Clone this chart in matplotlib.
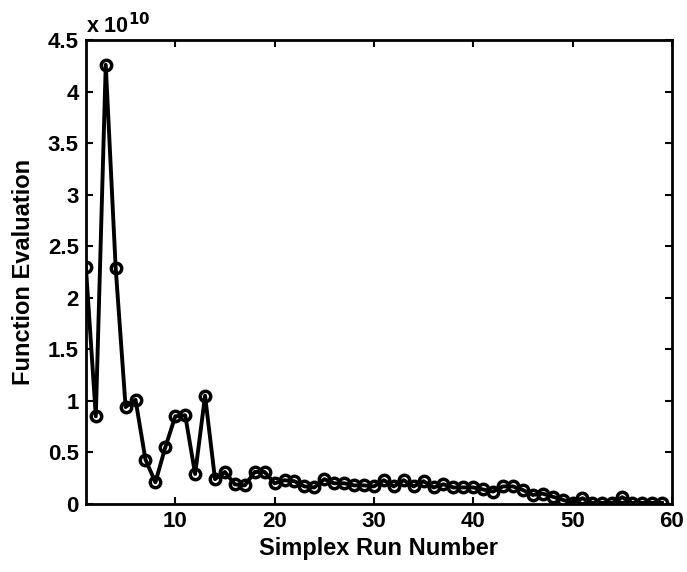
import matplotlib.pyplot as plt
import numpy as np

plt.rcParams['font.family'] = ['Liberation Sans', 'DejaVu Sans']
plt.rcParams['font.weight'] = 'bold'

# function evaluation per simplex run (units of 1e10)
run = np.arange(1, 60)
fval = [2.30, 0.85, 4.26, 2.29, 0.94, 1.01, 0.43, 0.21, 0.55, 0.85,
        0.86, 0.29, 1.05, 0.24, 0.31, 0.19, 0.18, 0.31, 0.31, 0.20,
        0.23, 0.22, 0.17, 0.16, 0.24, 0.20, 0.20, 0.18, 0.18, 0.17,
        0.23, 0.17, 0.23, 0.17, 0.22, 0.16, 0.19, 0.16, 0.16, 0.16,
        0.14, 0.12, 0.17, 0.17, 0.135, 0.087, 0.10, 0.07, 0.04, 0.01,
        0.055, 0.01, 0.01, 0.01, 0.065, 0.01, 0.01, 0.01, 0.01]

fig = plt.figure(figsize=(6.87, 5.72), dpi=100)
ax = fig.add_axes([0.125, 0.119, 0.853, 0.811])

ax.plot(run, fval, '-o', color='k', lw=2.8, ms=7.5, mfc='none', mew=2.5)

ax.set_xlim(1, 60)
ax.set_ylim(0, 4.5)
ax.set_xticks([10, 20, 30, 40, 50, 60])
ax.set_yticks(np.arange(0, 4.51, 0.5))
ax.set_yticklabels(['0', '0.5', '1', '1.5', '2', '2.5', '3', '3.5', '4', '4.5'])
ax.tick_params(direction='in', top=True, right=True, labelsize=16, width=1.5, length=5, pad=5)
for s in ax.spines.values():
    s.set_linewidth(2)

ax.set_xlabel('Simplex Run Number', fontsize=17, fontweight='bold', labelpad=4)
ax.set_ylabel('Function Evaluation', fontsize=17, fontweight='bold', labelpad=9)
ax.text(0.0, 1.005, 'x 10$^{\\mathbf{10}}$', transform=ax.transAxes, fontsize=15.5,
        fontweight='bold', ha='left', va='bottom')

fig.savefig('out.png', dpi=100)
